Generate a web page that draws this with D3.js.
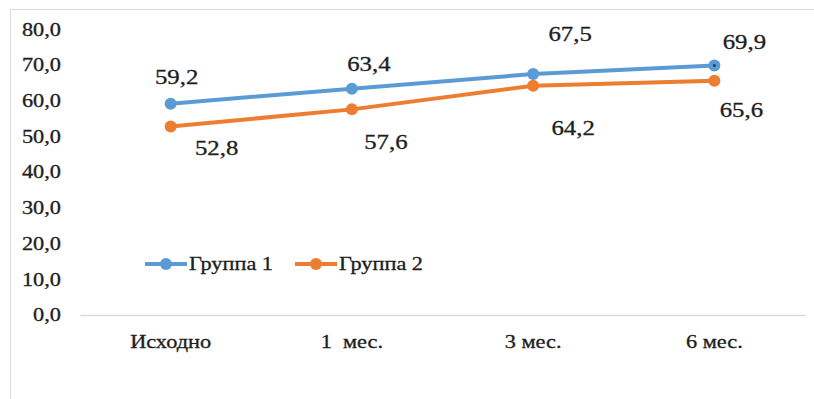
<!DOCTYPE html>
<html>
<head>
<meta charset="utf-8">
<script src="https://cdn.jsdelivr.net/npm/d3@7"></script>
<style>
  html, body { margin: 0; padding: 0; background: #fff; }
  svg { display: block; }
</style>
</head>
<body>
<svg id="chart" width="814" height="399"></svg>
<script>
// Data
const categories = ["Исходно", "1  мес.", "3 мес.", "6 мес."];
const seriesNames = ["Группа 1", "Группа 2"];
const group1 = [59.2, 63.4, 67.5, 69.9];
const group2 = [52.8, 57.6, 64.2, 65.6];
const yTicks = [0, 10, 20, 30, 40, 50, 60, 70, 80];

// Layout / style
const colors = ["#5b9bd5", "#ed7d31"];
// hand-placed value label offsets (dx, dy from each point)
const labelOffsets = [
  [[6, -26], [17, -24], [37, -40], [30, -23]],
  [[46, 22], [34, 33], [40, 43], [27, 30]]
];
const stretch = 1.24; // wide serif look
const fontFamily = "'Liberation Serif', 'Times New Roman', 'DejaVu Serif', serif";

const svg = d3.select("#chart");

// outer chart border
svg.append("rect")
  .attr("x", 10.5).attr("y", 9.5)
  .attr("width", 830).attr("height", 420)
  .attr("fill", "#fff").attr("stroke", "#d9d9d9").attr("stroke-width", 1);

const plot = { left: 80, right: 805, top: 29.4, bottom: 315 };

const x = d3.scaleBand().domain(categories).range([plot.left, plot.right]);
const y = d3.scaleLinear().domain([0, 80]).range([plot.bottom, plot.top]);
const cx = c => x(c) + x.bandwidth() / 2;

function stretchedText(g, tx, ty, str, size, anchor) {
  return g.append("text")
    .attr("transform", `translate(${tx},${ty}) scale(${stretch},1)`)
    .attr("text-anchor", anchor || "middle")
    .attr("dominant-baseline", "central")
    .attr("font-family", fontFamily)
    .attr("font-size", size)
    .attr("fill", "#1e1e1e")
    .attr("stroke", "#1e1e1e")
    .attr("stroke-width", 0.3)
    .style("white-space", "pre")
    .text(str);
}

// y axis labels (no axis line, no gridlines)
const yAxis = svg.append("g").attr("class", "y-axis");
const fmt = v => d3.format(".1f")(v).replace(".", ",");
yTicks.forEach(t => stretchedText(yAxis, 61, y(t), fmt(t), 18, "end"));

// x axis line
const xAxis = d3.axisBottom(x).tickSize(0).tickFormat("");
const xg = svg.append("g").attr("transform", `translate(0,${plot.bottom})`).call(xAxis);
xg.select(".domain").attr("stroke", "#d9d9d9").attr("stroke-width", 1.5);

// category labels
const cats = svg.append("g").attr("class", "x-labels");
categories.forEach(c => stretchedText(cats, cx(c), 342, c, 18));

// series
const allSeries = [group1, group2];
const line = d3.line().x((d, i) => cx(categories[i])).y(d => y(d));

allSeries.forEach((vals, si) => {
  const g = svg.append("g").attr("class", "series");
  g.append("path").datum(vals)
    .attr("d", line)
    .attr("fill", "none")
    .attr("stroke", colors[si])
    .attr("stroke-width", 4)
    .attr("stroke-linejoin", "round");
  g.selectAll("circle").data(vals).enter().append("circle")
    .attr("cx", (d, i) => cx(categories[i]))
    .attr("cy", d => y(d))
    .attr("r", 6)
    .attr("fill", colors[si]);
});

// small dark dot on the last point of the first series
svg.append("circle")
  .attr("cx", cx(categories[3])).attr("cy", y(group1[3]))
  .attr("r", 1.5).attr("fill", "#1f3864");

// value labels
allSeries.forEach((vals, si) => {
  const g = svg.append("g").attr("class", "labels");
  vals.forEach((v, i) => {
    const [dx, dy] = labelOffsets[si][i];
    stretchedText(g, cx(categories[i]) + dx, y(v) + dy, fmt(v), 20);
  });
});

// legend
const legend = svg.append("g").attr("class", "legend");
const legendX = [145, 295];
seriesNames.forEach((name, i) => {
  const lx = legendX[i], ly = 264;
  legend.append("line")
    .attr("x1", lx).attr("x2", lx + 42).attr("y1", ly).attr("y2", ly)
    .attr("stroke", colors[i]).attr("stroke-width", 4);
  legend.append("circle")
    .attr("cx", lx + 21).attr("cy", ly).attr("r", 6).attr("fill", colors[i]);
  stretchedText(legend, lx + 44, ly, name, 18, "start");
});
</script>
</body>
</html>
